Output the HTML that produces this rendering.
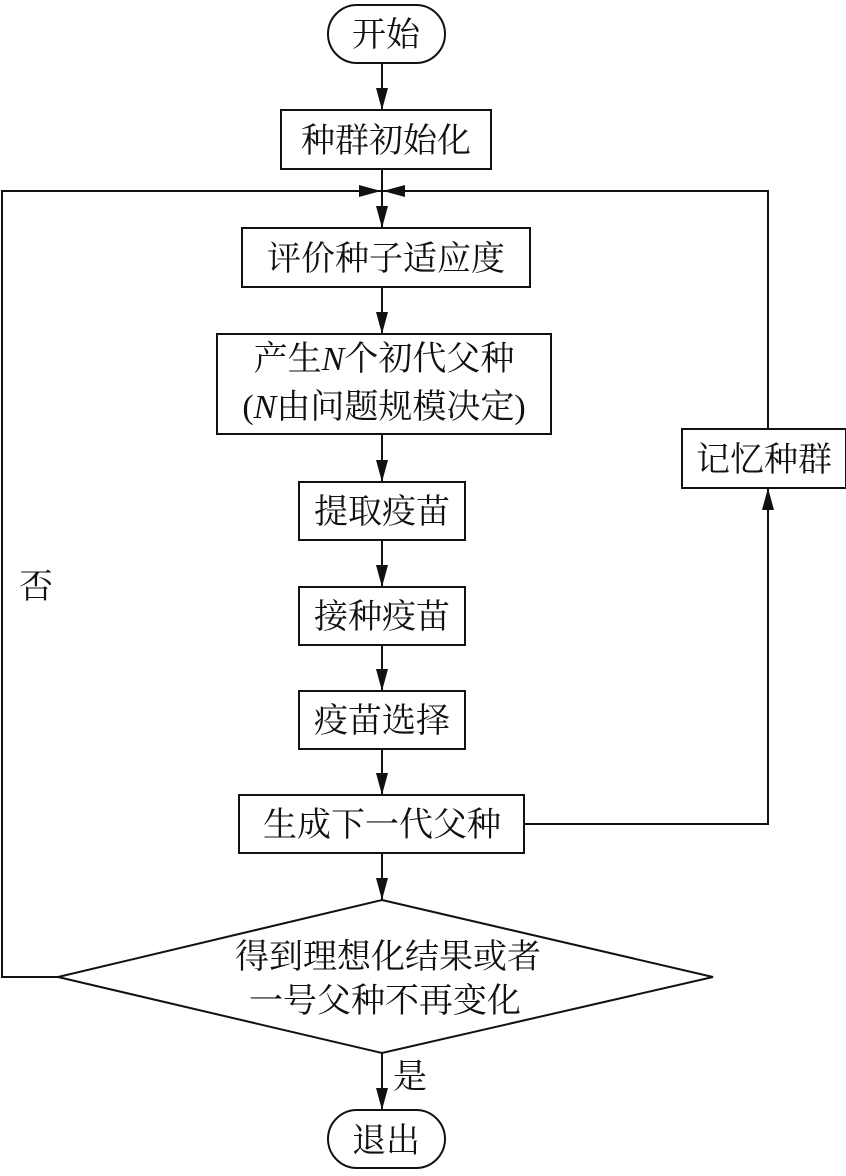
<!DOCTYPE html>
<html><head><meta charset="utf-8"><style>
html,body{margin:0;padding:0;background:#fff;}
svg text{font-family:"Liberation Serif","Noto Serif CJK SC","Noto Sans CJK SC",serif;font-size:34px;fill:#111;}
</style></head><body>
<svg width="846" height="1171" viewBox="0 0 846 1171" xmlns="http://www.w3.org/2000/svg">
<defs>
<marker id="a" markerWidth="22" markerHeight="12" refX="22" refY="6" orient="auto" markerUnits="userSpaceOnUse" viewBox="0 0 22 12">
<path d="M0,0 L22,6 L0,12 Z" fill="#111"/></marker>
</defs>
<g fill="none" stroke="#111" stroke-width="2">
<rect x="328" y="5" width="117" height="58" rx="29"/>
<rect x="281" y="110" width="210" height="59"/>
<rect x="242" y="228" width="288" height="59"/>
<rect x="217" y="334" width="334" height="100"/>
<rect x="299" y="482" width="166" height="58"/>
<rect x="299" y="587" width="166" height="58"/>
<rect x="299" y="691" width="166" height="58"/>
<rect x="239" y="795" width="285" height="58"/>
<rect x="682" y="429" width="164" height="59"/>
<polygon points="382,900 713,977 382,1053 58,977"/>
<rect x="328" y="1110" width="117" height="58" rx="29"/>
<line x1="382" y1="63" x2="382" y2="110" marker-end="url(#a)"/>
<line x1="382" y1="169" x2="382" y2="228" marker-end="url(#a)"/>
<line x1="382" y1="287" x2="382" y2="334" marker-end="url(#a)"/>
<line x1="382" y1="434" x2="382" y2="482" marker-end="url(#a)"/>
<line x1="382" y1="540" x2="382" y2="587" marker-end="url(#a)"/>
<line x1="382" y1="645" x2="382" y2="691" marker-end="url(#a)"/>
<line x1="382" y1="749" x2="382" y2="795" marker-end="url(#a)"/>
<line x1="382" y1="853" x2="382" y2="900" marker-end="url(#a)"/>
<line x1="382" y1="1053" x2="382" y2="1110" marker-end="url(#a)"/>
<polyline points="58,977 2,977 2,191 381,191" marker-end="url(#a)"/>
<polyline points="524,824 768,824 768,488" marker-end="url(#a)"/>
<polyline points="768,429 768,191 383,191" marker-end="url(#a)"/>
</g>
<g text-anchor="middle">
<text x="386" y="46">开始</text>
<text x="386" y="152">种群初始化</text>
<text x="386" y="270">评价种子适应度</text>
<text x="384" y="370">产生<tspan font-style="italic">N</tspan>个初代父种</text>
<text x="384" y="418">(<tspan font-style="italic">N</tspan>由问题规模决定)</text>
<text x="382" y="523">提取疫苗</text>
<text x="382" y="628">接种疫苗</text>
<text x="382" y="732">疫苗选择</text>
<text x="382" y="836">生成下一代父种</text>
<text x="764" y="471">记忆种群</text>
<text x="388" y="968">得到理想化结果或者</text>
<text x="385" y="1012">一号父种不再变化</text>
<text x="386" y="1152">退出</text>
<text x="410" y="1088">是</text>
<text x="36" y="598">否</text>
</g>
</svg>
</body></html>
